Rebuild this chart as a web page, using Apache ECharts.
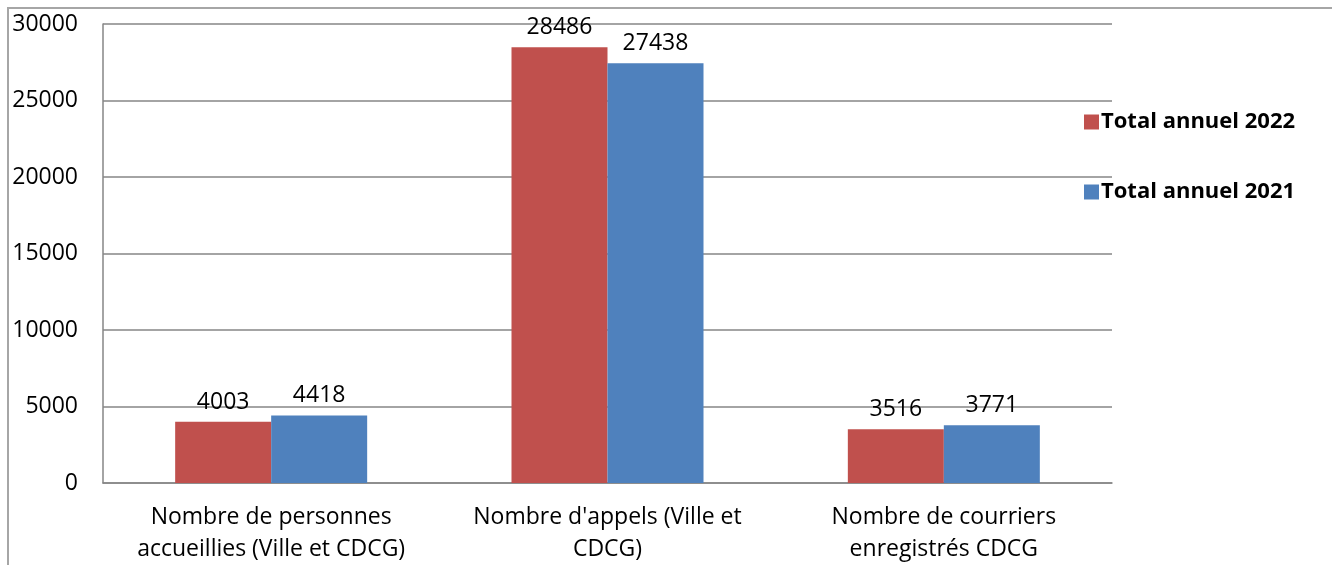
<!DOCTYPE html>
<html>
<head>
<meta charset="utf-8">
<script src="https://cdn.jsdelivr.net/npm/echarts@6/dist/echarts.min.js"></script>
<style>
  html, body { margin: 0; padding: 0; background: #fff; }
  #wrap { position: relative; width: 1332px; height: 565px; overflow: hidden; }
  #frame { position: absolute; left: 7px; top: 7px; right: -5px; bottom: -5px;
           border-top: 2px solid #a6a6a6; border-left: 2px solid #a6a6a6; }
  #chart { position: absolute; left: 0; top: 0; width: 1332px; height: 565px; }
</style>
</head>
<body>
<div id="wrap">
  <div id="frame"></div>
  <div id="chart"></div>
</div>
<script>
var categories = [
  'Nombre de personnes\naccueillies (Ville et CDCG)',
  "Nombre d'appels (Ville et\nCDCG)",
  'Nombre de courriers\nenregistrés CDCG'
];
var seriesNames = ['Total annuel 2022', 'Total annuel 2021'];
var values2022 = [4003, 28486, 3516];
var values2021 = [4418, 27438, 3771];
var yTicks = [0, 5000, 10000, 15000, 20000, 25000, 30000];

var font = '"Open Sans", sans-serif';
var labelStyle = {
  show: true,
  position: 'top',
  distance: 8,
  color: '#000',
  fontFamily: font,
  fontSize: 23
};

echarts.init(document.getElementById('chart'), null, { renderer: 'canvas' }).setOption({
  animation: false,
  color: ['#c0504d', '#4f81bd'],
  grid: { left: 103, right: 220, top: 24, bottom: 82, containLabel: false },
  legend: {
    orient: 'vertical',
    left: 1079,
    top: 106,
    itemWidth: 15,
    itemHeight: 15,
    itemGap: 48,
    icon: 'rect',
    data: seriesNames,
    textStyle: { fontFamily: font, fontSize: 22, fontWeight: 'bold', color: '#000', padding: [0, 0, 0, -3] }
  },
  xAxis: {
    type: 'category',
    data: categories,
    axisLine: { lineStyle: { color: '#868686', width: 1.5 } },
    axisTick: { show: false },
    axisLabel: {
      margin: 18,
      color: '#000',
      fontFamily: font,
      fontSize: 23,
      lineHeight: 32,
      interval: 0
    }
  },
  yAxis: {
    type: 'value',
    min: yTicks[0],
    max: yTicks[yTicks.length - 1],
    interval: 5000,
    axisLine: { show: true, lineStyle: { color: '#868686', width: 1.5 } },
    axisTick: { show: false },
    splitLine: { lineStyle: { color: '#868686', width: 1.5 } },
    axisLabel: {
      margin: 25,
      color: '#000',
      fontFamily: font,
      fontSize: 23,
      formatter: function (v) { return String(v); }
    }
  },
  series: [
    { name: seriesNames[0], type: 'bar', data: values2022, barWidth: 96, barGap: '0%', label: labelStyle },
    { name: seriesNames[1], type: 'bar', data: values2021, barWidth: 96, barGap: '0%', label: labelStyle }
  ]
});
</script>
</body>
</html>
